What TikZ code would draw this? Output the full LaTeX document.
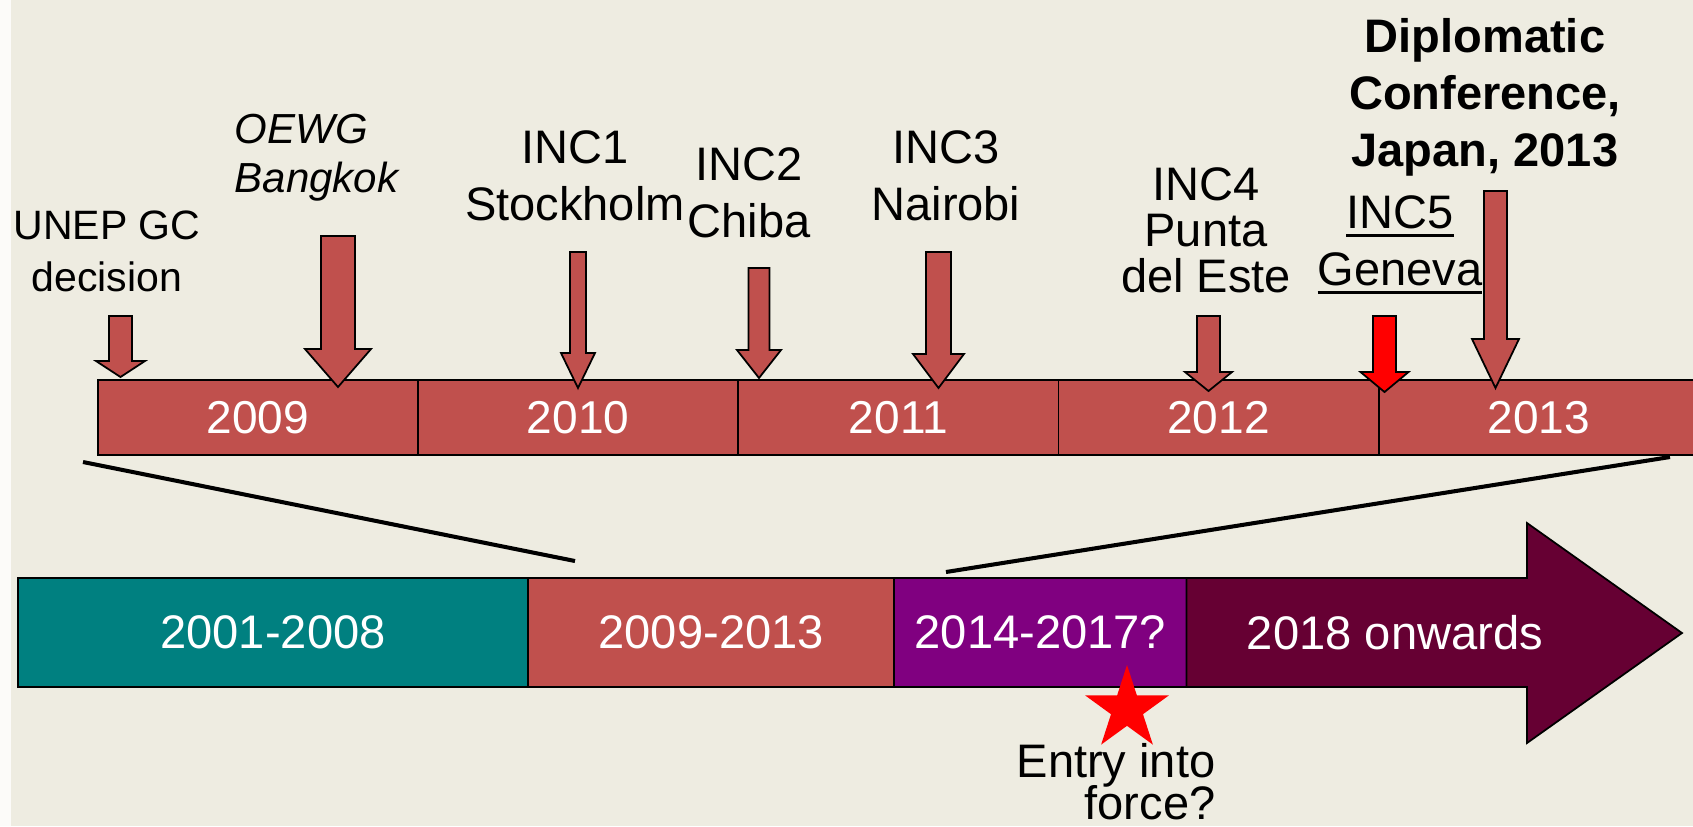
\documentclass[tikz,border=0pt]{standalone}
\usepackage{fontspec}
\setmainfont{Liberation Sans}
\usetikzlibrary{positioning,shapes}

\definecolor{bgcream}{HTML}{EEECE1}
\definecolor{brickred}{HTML}{C0504D}
\definecolor{tealbox}{HTML}{008080}
\definecolor{purplebox}{HTML}{800080}
\definecolor{maroonbox}{HTML}{660033}

% block arrow pointing down: colour, x, shaft half width, top, head base, head half width, tip
\newcommand{\dnarrow}[7]{%
  \filldraw[fill=#1, draw=black, line width=0.5pt]
    (#2-#3,#4) -- (#2+#3,#4) -- (#2+#3,#5) -- (#2+#6,#5) -- (#2,#7)
    -- (#2-#6,#5) -- (#2-#3,#5) -- cycle;}
\newcommand{\undln}[1]{\setbox0\hbox{#1}\rlap{\rule[-2.4pt]{\wd0}{0.8pt}}\box0}
\newcommand{\tightlines}{\lineskiplimit -50pt\relax}

\begin{document}
\begin{tikzpicture}[x=0.01cm, y=-0.01cm,
    yearbox/.style={draw=black, line width=0.5pt, fill=brickred, text=white,
      minimum width=3.2cm, minimum height=0.75cm, inner sep=0pt, outer sep=0pt,
      font=\fontsize{13.1pt}{15pt}\selectfont},
    periodbox/.style={draw=black, line width=0.5pt, text=white,
      minimum height=1.09cm, inner sep=0pt, outer sep=0pt,
      font=\fontsize{13.4pt}{15pt}\selectfont},
    lbl/.style={align=center, inner sep=0pt, anchor=north,
      font=\fontsize{13.37pt}{16.2pt}\selectfont\tightlines},
    zoomline/.style={line width=1.15pt}]
    \useasboundingbox (0,0) rectangle (1693,826);
    \clip (0,0) rectangle (1693,826);
    \fill[bgcream] (0,0) rectangle (1693,826);
    \fill[white!80!bgcream] (0,0) rectangle (11,826);

    % years 2009-2013
    \node[yearbox] (y2009) at (258,417.5) {2009};
    \node[yearbox, right=0pt of y2009] (y2010) {2010};
    \node[yearbox, right=0pt of y2010] (y2011) {2011};
    \node[yearbox, right=0pt of y2011] (y2012) {2012};
    \node[yearbox, right=0pt of y2012] (y2013) {2013};

    % meetings
    \node[lbl, font=\fontsize{11.67pt}{14.8pt}\selectfont] (unep) at (107,210) {UNEP GC\\decision};
    \node[lbl, align=left, anchor=north west, font=\fontsize{11.95pt}{14.2pt}\selectfont\itshape] (oewg) at (234,113) {OEWG\\Bangkok};
    \node[lbl] (inc1) at (575,130) {INC1\\Stockholm};
    \node[lbl] (inc2) at (749,147) {INC2\\Chiba};
    \node[lbl] (inc3) at (946,130) {INC3\\Nairobi};
    \node[lbl, font=\fontsize{13.37pt}{13.1pt}\selectfont\tightlines] (inc4) at (1206,167) {INC4\\Punta\\del Este};
    \node[lbl] (inc5) at (1400,195) {\undln{INC5}\\\undln{Geneva}};
    \node[lbl, font=\fontsize{13.37pt}{16.2pt}\selectfont\bfseries] (dipl) at (1485,18) {Diplomatic\\Conference,\\Japan, 2013};

    \dnarrow{brickred}{120.5}{11.5}{316}{361}{24.5}{377}
    \dnarrow{brickred}{338}{17}{236}{349}{33}{387}
    \dnarrow{brickred}{578}{8}{252}{353}{17}{388}
    \dnarrow{brickred}{759}{10.5}{268}{350}{22}{378}
    \dnarrow{brickred}{938.5}{12.5}{252}{354}{25.5}{388}
    \dnarrow{brickred}{1208.5}{11.5}{316}{372}{23.5}{391}
    \dnarrow{red}{1384.5}{11.5}{316}{372}{24}{392}
    \dnarrow{brickred}{1495.5}{11.5}{191}{339}{23.5}{388}

    % periods
    \node[periodbox, fill=tealbox, minimum width=5.1cm] (p1) at (273,632.5) {2001-2008};
    \node[periodbox, fill=brickred, minimum width=3.66cm, right=0pt of p1] (p2) {2009-2013};
    \node[periodbox, fill=purplebox, minimum width=2.92cm, right=0pt of p2] (p3) {2014-2017?};
    \filldraw[fill=maroonbox, draw=black, line width=0.5pt] (p3.north east) -- (1527,578) -- (1527,523)
      -- (1682,633) -- (1527,743) -- (1527,687) -- (p3.south east) -- cycle;
    \node[text=white, inner sep=0pt, font=\fontsize{13.4pt}{15pt}\selectfont] (p4) at (1395,632.5) {2018 onwards};

    \node[star, star points=5, star point ratio=2.618, fill=red, minimum size=0.88cm, inner sep=0pt] (eif) at (1127,709) {};
    \node[lbl, anchor=north east, align=right, font=\fontsize{13.37pt}{11.95pt}\selectfont\tightlines] (eiftxt) at (1216,743) {Entry into\\force?};

    % zoom lines
    \coordinate (zl) at (83,462);
    \coordinate (zlb) at (575,561);
    \coordinate (zr) at (1670,457);
    \coordinate (zrb) at (946,572);
    \draw[zoomline] (zl) -- (zlb);
    \draw[zoomline] (zr) -- (zrb);
\end{tikzpicture}
\end{document}
